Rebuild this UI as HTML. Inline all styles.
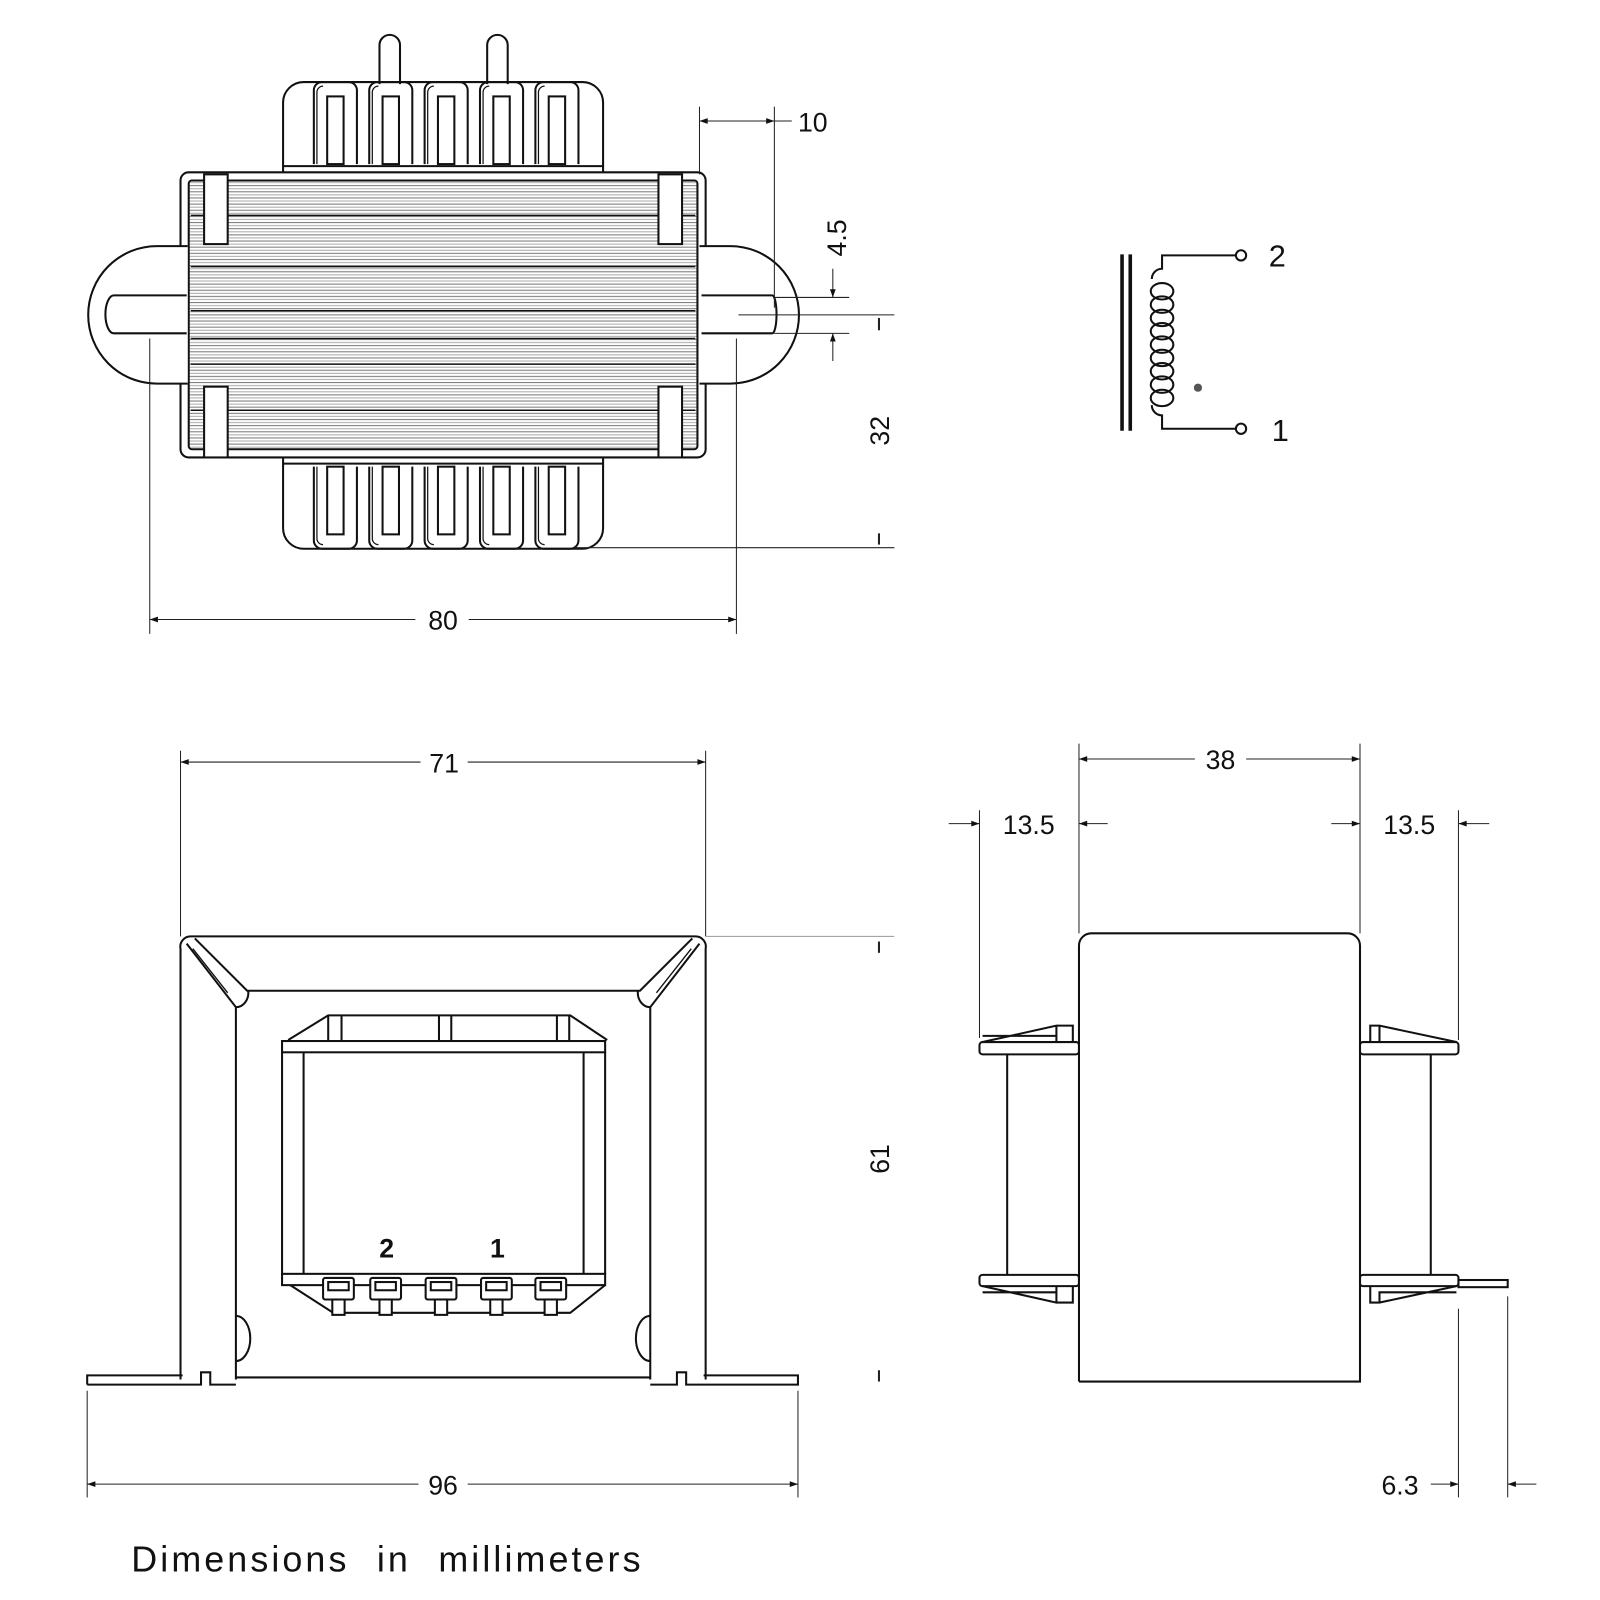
<!DOCTYPE html>
<html><head><meta charset="utf-8"><style>
html,body{margin:0;padding:0;background:#fff}
svg{display:block}
text{font-family:"Liberation Sans",sans-serif;fill:#111}
</style></head><body>
<svg width="1600" height="1600" viewBox="0 0 1560 1560" xmlns="http://www.w3.org/2000/svg">
<defs>
<marker id="a" viewBox="0 0 10 10" refX="10" refY="5" markerWidth="14" markerHeight="8" orient="auto-start-reverse" markerUnits="userSpaceOnUse"><path d="M0,1.5 L10,5 L0,8.5z" fill="#111"/></marker>
<pattern id="lam" width="10" height="6" patternUnits="userSpaceOnUse"><line x1="0" y1="1" x2="10" y2="1" stroke="#777" stroke-width="1"/><line x1="0" y1="4" x2="10" y2="4" stroke="#aaa" stroke-width="1"/></pattern>
<g id="finger"><path d="M0,80 V8 a8,8 0 0 1 8,-8 H34 a8,8 0 0 1 8,8 V80" fill="none" stroke="#111" stroke-width="2"/><path d="M3,80 V10 a6,6 0 0 1 6,-6" fill="none" stroke="#111" stroke-width="1.2"/><rect x="13" y="14" width="16" height="66" fill="none" stroke="#111" stroke-width="2"/></g>
<g id="term"><rect x="-15" y="0" width="30" height="21" rx="2" fill="#fff" stroke="#111" stroke-width="2"/><rect x="-10" y="4" width="20" height="8" fill="none" stroke="#111" stroke-width="2"/><rect x="-6" y="21" width="12" height="15" fill="#fff" stroke="#111" stroke-width="2"/></g>
</defs>
<g fill="none" stroke="#111" stroke-width="2">
<!-- TOP VIEW -->
<path d="M370,82 V44 a10,10 0 0 1 20,0 V82"/>
<path d="M475,82 V44 a10,10 0 0 1 20,0 V82"/>
<path d="M276,170 V100 a20,20 0 0 1 20,-20 H568 a20,20 0 0 1 20,20 V170"/>
<line x1="276" y1="162" x2="588" y2="162"/>
<use href="#finger" x="306" y="80"/><use href="#finger" x="360" y="80"/><use href="#finger" x="414" y="80"/><use href="#finger" x="468" y="80"/><use href="#finger" x="522" y="80"/>
<path d="M276,444 V515 a20,20 0 0 0 20,20 H568 a20,20 0 0 0 20,-20 V444"/>
<line x1="276" y1="452" x2="588" y2="452"/>
<g transform="translate(0,615) scale(1,-1)"><use href="#finger" x="306" y="80"/><use href="#finger" x="360" y="80"/><use href="#finger" x="414" y="80"/><use href="#finger" x="468" y="80"/><use href="#finger" x="522" y="80"/></g>
<rect x="176" y="168" width="512" height="278" rx="8" fill="#fff"/>
<rect x="184" y="176" width="496" height="262" rx="3" fill="url(#lam)"/>
<g stroke-width="1.4"><line x1="186" y1="210" x2="678" y2="210"/><line x1="186" y1="260" x2="678" y2="260"/><line x1="186" y1="303" x2="678" y2="303"/><line x1="186" y1="330" x2="678" y2="330"/><line x1="186" y1="355" x2="678" y2="355"/><line x1="186" y1="400" x2="678" y2="400"/></g>
<rect x="199" y="170" width="23" height="68" fill="#fff"/><rect x="642" y="170" width="23" height="68" fill="#fff"/>
<rect x="199" y="377" width="23" height="69" fill="#fff"/><rect x="642" y="377" width="23" height="69" fill="#fff"/>
<path d="M183,240 H153 a67,67 0 0 0 0,134 H183" fill="#fff"/>
<path d="M182,288 H111 a8,18 0 0 0 0,37 H182" fill="#fff"/>
<path d="M682,240 H712 a67,67 0 0 1 0,134 H682" fill="#fff"/>
<path d="M684,288 H753 a4,18 0 0 1 0,37 H684" fill="#fff"/>
</g>
<!-- top dims -->
<g stroke="#222" stroke-width="1" fill="none">
<line x1="682" y1="104" x2="682" y2="170"/><line x1="755" y1="104" x2="755" y2="300"/>
<line x1="682" y1="118" x2="755" y2="118" marker-start="url(#a)" marker-end="url(#a)"/><line x1="755" y1="118" x2="772" y2="118"/>
<line x1="755" y1="290" x2="828" y2="290"/><line x1="755" y1="325" x2="828" y2="325"/>
<line x1="812" y1="262" x2="812" y2="290" marker-end="url(#a)"/><line x1="812" y1="352" x2="812" y2="325" marker-end="url(#a)"/>
<line x1="720" y1="307" x2="872" y2="307"/><line x1="560" y1="534" x2="872" y2="534"/>
<line x1="857" y1="310" x2="857" y2="322" stroke-width="2"/><line x1="857" y1="520" x2="857" y2="531" stroke-width="2"/>
<line x1="146" y1="330" x2="146" y2="618"/><line x1="718" y1="330" x2="718" y2="618"/>
<line x1="146" y1="604" x2="405" y2="604" marker-start="url(#a)"/><line x1="457" y1="604" x2="718" y2="604" marker-end="url(#a)"/>
</g>
<text x="778" y="128" font-size="26">10</text>
<text transform="translate(825,232) rotate(-90)" font-size="26" text-anchor="middle">4.5</text>
<text transform="translate(867,420) rotate(-90)" font-size="26" text-anchor="middle">32</text>
<text x="432" y="614" font-size="26" text-anchor="middle">80</text>
<!-- schematic -->
<g stroke="#111" fill="none">
<line x1="1094" y1="248" x2="1094" y2="420" stroke-width="3.5"/><line x1="1102" y1="248" x2="1102" y2="420" stroke-width="3.5"/>
<path d="M1205,249 H1133 V262 a10,10 0 0 0 -10,10" stroke-width="2"/>
<path d="M1205,418 H1133 V405 a10,10 0 0 1 -10,-10" stroke-width="2"/>
<g stroke-width="2"><ellipse cx="1133" cy="284" rx="11" ry="8"/><ellipse cx="1133" cy="297" rx="11" ry="8"/><ellipse cx="1133" cy="310" rx="11" ry="8"/><ellipse cx="1133" cy="323" rx="11" ry="8"/><ellipse cx="1133" cy="336" rx="11" ry="8"/><ellipse cx="1133" cy="349" rx="11" ry="8"/><ellipse cx="1133" cy="362" rx="11" ry="8"/><ellipse cx="1133" cy="375" rx="11" ry="8"/><ellipse cx="1133" cy="388" rx="11" ry="8"/></g>
<circle cx="1210" cy="249" r="5" stroke-width="2" fill="#fff"/><circle cx="1210" cy="418" r="5" stroke-width="2" fill="#fff"/>
</g>
<circle cx="1168" cy="378" r="4" fill="#555"/>
<text x="1237" y="260" font-size="30">2</text><text x="1240" y="430" font-size="30">1</text>
<!-- FRONT VIEW -->
<g fill="none" stroke="#111" stroke-width="2">
<path d="M176,1345 V925 a10,10 0 0 1 10,-12 H678 a10,10 0 0 1 10,12 V1345"/>
<path d="M230,1345 V982 L182,920 M634,1345 V982 L682,920"/>
<path d="M190,915 L241,966 H624 L675,915"/>
<path d="M188,925 L222,968 M674,925 L640,968" stroke-width="1.3"/>
<path d="M230,982 a12,14 0 0 0 12,-16 M634,982 a12,14 0 0 1 -12,-16"/>
<path d="M230,1283 a14,22 0 0 1 0,44 M634,1283 a14,22 0 0 0 0,44"/>
<path d="M85,1350 V1341 H178 M85,1350 H196 V1338 H205 V1350 H230 M230,1343 H634 M634,1350 H660 V1338 H669 V1350 H778 V1341 H686"/>
<rect x="275" y="1015" width="315" height="11"/>
<rect x="275" y="1242" width="315" height="11"/>
<line x1="275" y1="1026" x2="275" y2="1242"/><line x1="590" y1="1026" x2="590" y2="1242"/>
<line x1="296" y1="1026" x2="296" y2="1242"/><line x1="569" y1="1026" x2="569" y2="1242"/>
<path d="M281,1014 L320,990 H556 L592,1014"/>
<path d="M320,990 V1014 M333,990 V1014 M428,990 V1014 M440,990 V1014 M543,990 V1014 M555,990 V1014"/>
<path d="M283,1253 L325,1280 H556 L590,1253"/>
<use href="#term" x="330" y="1246"/><use href="#term" x="376" y="1246"/><use href="#term" x="430" y="1246"/><use href="#term" x="484" y="1246"/><use href="#term" x="537" y="1246"/>
</g>
<text x="377" y="1226" font-size="26" font-weight="bold" text-anchor="middle">2</text>
<text x="485" y="1226" font-size="26" font-weight="bold" text-anchor="middle">1</text>
<g stroke="#222" stroke-width="1" fill="none">
<line x1="176" y1="732" x2="176" y2="913"/><line x1="688" y1="732" x2="688" y2="913"/>
<line x1="176" y1="743" x2="410" y2="743" marker-start="url(#a)"/><line x1="456" y1="743" x2="688" y2="743" marker-end="url(#a)"/>
<line x1="688" y1="913" x2="872" y2="913" stroke="#999"/>
<line x1="857" y1="918" x2="857" y2="929" stroke-width="2"/><line x1="857" y1="1336" x2="857" y2="1347" stroke-width="2"/>
<line x1="85" y1="1356" x2="85" y2="1460"/><line x1="778" y1="1356" x2="778" y2="1460"/>
<line x1="85" y1="1447" x2="408" y2="1447" marker-start="url(#a)"/><line x1="456" y1="1447" x2="778" y2="1447" marker-end="url(#a)"/>
</g>
<text x="433" y="753" font-size="26" text-anchor="middle">71</text>
<text transform="translate(867,1130) rotate(-90)" font-size="26" text-anchor="middle">61</text>
<text x="432" y="1457" font-size="26" text-anchor="middle">96</text>
<!-- SIDE VIEW -->
<g fill="none" stroke="#111" stroke-width="2">
<path d="M1052,1347 V922 a12,12 0 0 1 12,-12 H1314 a12,12 0 0 1 12,12 V1347 H1052"/>
<rect x="955" y="1016" width="97" height="12" rx="3"/>
<path d="M958,1016 L1030,1000 H1046 V1016 M1030,1000 V1016 M958,1010 H1030"/>
<line x1="982" y1="1028" x2="982" y2="1243"/>
<rect x="955" y="1243" width="97" height="11" rx="3"/>
<path d="M958,1254 L1030,1270 H1046 V1254 M1030,1270 V1254 M958,1260 H1030"/>
<rect x="1326" y="1016" width="96" height="12" rx="3"/>
<path d="M1420,1016 L1345,1000 H1336 V1016 M1345,1000 V1016"/>
<line x1="1395" y1="1028" x2="1395" y2="1243"/>
<rect x="1326" y="1243" width="96" height="11" rx="3"/>
<path d="M1420,1254 L1345,1270 H1336 V1254 M1345,1270 V1260 H1420"/>
<rect x="1422" y="1248" width="48" height="7"/>
</g>
<g stroke="#222" stroke-width="1" fill="none">
<line x1="1052" y1="725" x2="1052" y2="910"/><line x1="1326" y1="725" x2="1326" y2="910"/>
<line x1="1052" y1="740" x2="1165" y2="740" marker-start="url(#a)"/><line x1="1215" y1="740" x2="1326" y2="740" marker-end="url(#a)"/>
<line x1="955" y1="790" x2="955" y2="1012"/><line x1="1422" y1="790" x2="1422" y2="1014"/>
<line x1="925" y1="803" x2="955" y2="803" marker-end="url(#a)"/><line x1="1080" y1="803" x2="1052" y2="803" marker-end="url(#a)"/>
<line x1="1298" y1="803" x2="1326" y2="803" marker-end="url(#a)"/><line x1="1452" y1="803" x2="1422" y2="803" marker-end="url(#a)"/>
<line x1="1422" y1="1276" x2="1422" y2="1460"/><line x1="1470" y1="1264" x2="1470" y2="1460"/>
<line x1="1395" y1="1447" x2="1422" y2="1447" marker-end="url(#a)"/><line x1="1498" y1="1447" x2="1470" y2="1447" marker-end="url(#a)"/>
</g>
<text x="1190" y="750" font-size="26" text-anchor="middle">38</text>
<text x="1003" y="813" font-size="26" text-anchor="middle">13.5</text>
<text x="1374" y="813" font-size="26" text-anchor="middle">13.5</text>
<text x="1365" y="1457" font-size="26" text-anchor="middle">6.3</text>
<text x="128" y="1532" font-size="35" letter-spacing="3" word-spacing="14">Dimensions in millimeters</text>
</svg>
</body></html>
